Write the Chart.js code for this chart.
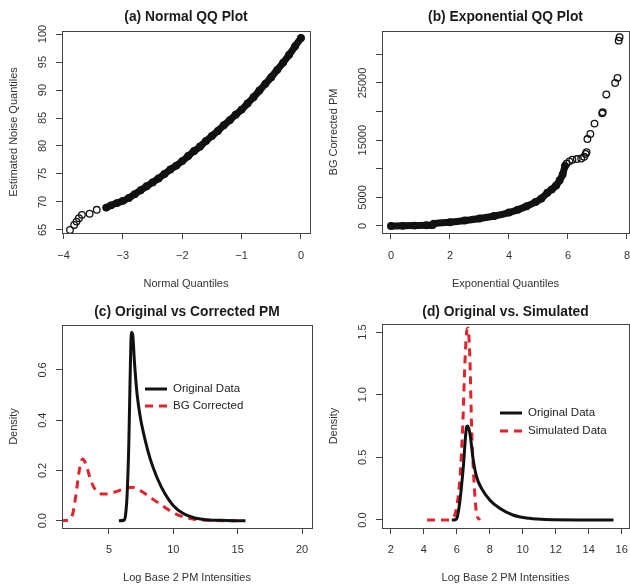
<!DOCTYPE html>
<html lang="en">
<head>
<meta charset="UTF-8">
<title>QQ plots and densities</title>
<script src="https://cdn.jsdelivr.net/npm/chart.js"></script>
<style>
  body { margin: 0; background: #fff; }
  canvas { position: absolute; }
</style>
</head>
<body>
<canvas id="qqNormal" width="315" height="294" style="left:0;top:0"></canvas>
<canvas id="qqExp" width="315" height="294" style="left:315px;top:0"></canvas>
<canvas id="densCorr" width="315" height="294" style="left:0;top:294px"></canvas>
<canvas id="densSim" width="315" height="294" style="left:315px;top:294px"></canvas>
<script>
// (a) normal QQ plot: sparse tail + dense band
const normSparseX = [-3.89, -3.82, -3.78, -3.74, -3.69, -3.56, -3.44];
const normSparseY = [65.0, 65.9, 66.5, 67.1, 67.7, 67.9, 68.6];
const normDenseX = [-3.28, -3.2, -3.1, -3.0, -2.9, -2.8, -2.7, -2.6, -2.5, -2.4, -2.3, -2.2, -2.1, -2.0, -1.9, -1.8, -1.7, -1.6, -1.5, -1.4, -1.3, -1.2, -1.1, -1.0, -0.9, -0.8, -0.7, -0.6, -0.5, -0.4, -0.3, -0.2, -0.1, 0.0];
const normDenseY = [69.0, 69.4, 69.8, 70.2, 70.7, 71.4, 72.1, 72.8, 73.5, 74.2, 75.0, 75.8, 76.5, 77.3, 78.2, 79.1, 79.9, 80.9, 81.8, 82.7, 83.7, 84.6, 85.6, 86.5, 87.6, 88.7, 89.9, 91.1, 92.3, 93.6, 94.9, 96.3, 97.8, 99.3];

// (b) exponential QQ plot
const expDenseX = [0, 0.4, 0.8, 1.2, 1.4, 1.45, 2.0, 2.5, 3.0, 3.5, 4.0, 4.3, 4.6, 4.9, 5.1, 5.3, 5.45, 5.6, 5.72, 5.82, 5.9];
const expDenseY = [0, 30, 70, 120, 150, 380, 650, 950, 1300, 1750, 2350, 2850, 3450, 4200, 4800, 5800, 6400, 7100, 8000, 9000, 10500];
const expSparseX = [5.95, 6.05, 6.15, 6.3, 6.45, 6.55, 6.6, 6.63, 6.66, 6.76, 6.9, 7.16, 7.18, 7.3, 7.6, 7.68, 7.72, 7.75];
const expSparseY = [10900, 11300, 11600, 11700, 11800, 12100, 12600, 12900, 15200, 16100, 17900, 19700, 19900, 23000, 25000, 25900, 32400, 33000];

// (c) original vs corrected densities
const origX = [5.77, 6.15, 6.28, 6.41, 6.54, 6.67, 6.74, 6.85, 6.97, 7.18, 7.44, 7.82, 8.2, 8.72, 9.36, 10, 10.77, 11.54, 12.56, 14.1, 15.6];
const origY = [0, 0.002, 0.02, 0.106, 0.305, 0.64, 0.75, 0.737, 0.637, 0.505, 0.41, 0.319, 0.246, 0.173, 0.106, 0.06, 0.029, 0.013, 0.004, 0.001, 0];
const bgX = [1.2, 1.8, 2.18, 2.44, 2.69, 2.95, 3.2, 3.59, 4.1, 4.62, 5.38, 6.15, 6.8, 7.44, 8.2, 8.97, 9.74, 10.5, 11.5, 13.1, 14.9];
const bgY = [0, 0.002, 0.027, 0.106, 0.2, 0.246, 0.226, 0.16, 0.113, 0.106, 0.113, 0.126, 0.133, 0.12, 0.093, 0.066, 0.04, 0.02, 0.007, 0.001, 0];

// (d) original vs simulated densities
const orig2X = [5.7, 5.9, 6.04, 6.2, 6.4, 6.6, 6.66, 6.8, 7.0, 7.2, 7.5, 8.0, 8.6, 9.4, 10.4, 11.4, 13.4, 15.5];
const orig2Y = [0, 0.002, 0.027, 0.16, 0.425, 0.743, 0.75, 0.69, 0.478, 0.345, 0.252, 0.16, 0.093, 0.04, 0.013, 0.003, 0, 0];
const simX = [4.2, 5.4, 5.8, 6.0, 6.2, 6.36, 6.5, 6.6, 6.68, 6.8, 6.9, 7.04, 7.2, 7.4];
const simY = [0, 0, 0.02, 0.106, 0.345, 0.743, 1.27, 1.5, 1.53, 1.27, 0.743, 0.32, 0.053, 0];

const FONT = '"Liberation Sans", Arial, sans-serif';
const RED = '#e3232c';

function pts(xs, ys) { return xs.map((x, i) => ({ x: x, y: ys[i] })); }

// box, titles, tick labels and legend drawn the way R does it
const rDeco = {
  id: 'rdeco',
  afterDraw(chart, args, o) {
    const ctx = chart.ctx, a = chart.chartArea;
    const xs = chart.scales.x, ys = chart.scales.y;
    ctx.save();
    ctx.strokeStyle = '#444';
    ctx.lineWidth = 1;
    ctx.strokeRect(Math.round(a.left) + 0.5, Math.round(a.top) + 0.5, Math.round(a.right - a.left), Math.round(a.bottom - a.top));

    ctx.textAlign = 'center';
    ctx.textBaseline = 'middle';
    ctx.fillStyle = '#1a1a1a';
    ctx.font = 'bold 13.8px ' + FONT;
    ctx.fillText(o.title, (a.left + a.right) / 2, o.titleY);

    ctx.fillStyle = '#333';
    ctx.font = '11px ' + FONT;
    o.xLabels.forEach((t, i) => ctx.fillText(t, xs.getPixelForValue(o.xLabelVals[i]), 256));
    ctx.fillText(o.xTitle, (a.left + a.right) / 2, 284);

    o.yLabels.forEach((t, i) => {
      ctx.save();
      ctx.translate(a.left - 19, ys.getPixelForValue(o.yLabelVals[i]));
      ctx.rotate(-Math.PI / 2);
      ctx.fillText(t, 0, 0);
      ctx.restore();
    });
    ctx.save();
    ctx.translate(a.left - 48, (a.top + a.bottom) / 2);
    ctx.rotate(-Math.PI / 2);
    ctx.fillText(o.yTitle, 0, 0);
    ctx.restore();

    if (o.legend) {
      const lg = o.legend;
      lg.items.forEach(it => {
        ctx.strokeStyle = it.color;
        ctx.lineWidth = 3;
        ctx.setLineDash(it.dash || []);
        ctx.beginPath();
        ctx.moveTo(lg.x1, it.y);
        ctx.lineTo(lg.x2, it.y);
        ctx.stroke();
        ctx.setLineDash([]);
        ctx.textAlign = 'left';
        ctx.fillStyle = '#222';
        ctx.font = '11.5px ' + FONT;
        ctx.fillText(it.text, lg.tx, it.y);
      });
    }
    ctx.restore();
  }
};

function axis(min, max, ticks, isY) {
  return {
    type: 'linear', min: min, max: max,
    afterBuildTicks: s => { s.ticks = ticks.map(v => ({ value: v })); },
    afterFit: s => { if (isY) s.width = 6; else s.height = 6; },
    ticks: { display: false },
    grid: { drawOnChartArea: false, drawTicks: true, tickLength: 6, tickColor: '#444', lineWidth: 1 },
    border: { display: false }
  };
}

function makeChart(id, datasets, xa, ya, pad, deco) {
  new Chart(document.getElementById(id), {
    type: 'scatter',
    data: { datasets: datasets },
    options: {
      responsive: false,
      animation: false,
      devicePixelRatio: 1,
      events: [],
      layout: { padding: pad, autoPadding: false },
      scales: { x: xa, y: ya },
      plugins: { legend: { display: false }, tooltip: { enabled: false }, rdeco: deco }
    },
    plugins: [rDeco]
  });
}

const ring = { pointRadius: 3.3, pointBorderWidth: 1.3, pointBorderColor: '#111', pointBackgroundColor: 'rgba(0,0,0,0)' };

makeChart('qqNormal', [
  Object.assign({ data: pts(normDenseX, normDenseY), showLine: true, borderColor: '#111', borderWidth: 7,
    borderCapStyle: 'round', borderJoinStyle: 'round', cubicInterpolationMode: 'monotone' }, ring),
  Object.assign({ data: pts(normSparseX, normSparseY) }, ring)
], axis(-4.025, 0.152, [-4, -3, -2, -1, 0]), axis(64.46, 100.54, [65, 70, 75, 80, 85, 90, 95, 100], true),
{ left: 56, top: 31, right: 5, bottom: 55 },
{ title: '(a) Normal QQ Plot', titleY: 17, xTitle: 'Normal Quantiles', yTitle: 'Estimated Noise Quantiles',
  xLabelVals: [-4, -3, -2, -1, 0], xLabels: ['\u22124', '\u22123', '\u22122', '\u22121', '0'],
  yLabelVals: [65, 70, 75, 80, 85, 90, 95, 100], yLabels: ['65', '70', '75', '80', '85', '90', '95', '100'] });

makeChart('qqExp', [
  Object.assign({ data: pts(expDenseX, expDenseY), showLine: true, borderColor: '#111', borderWidth: 7,
    borderCapStyle: 'round', borderJoinStyle: 'round', cubicInterpolationMode: 'monotone' }, ring),
  Object.assign({ data: pts(expSparseX, expSparseY) }, ring)
], axis(-0.305, 8.07, [0, 2, 4, 6, 8]), axis(-1224, 34090, [0, 5000, 10000, 15000, 20000, 25000, 30000], true),
{ left: 61, top: 31, right: 1, bottom: 55 },
{ title: '(b) Exponential QQ Plot', titleY: 17, xTitle: 'Exponential Quantiles', yTitle: 'BG Corrected PM',
  xLabelVals: [0, 2, 4, 6, 8], xLabels: ['0', '2', '4', '6', '8'],
  yLabelVals: [0, 5000, 15000, 25000], yLabels: ['0', '5000', '15000', '25000'] });

makeChart('densCorr', [
  { data: pts(origX, origY), showLine: true, borderColor: '#111', borderWidth: 3, pointRadius: 0, cubicInterpolationMode: 'monotone' },
  { data: pts(bgX, bgY), showLine: true, borderColor: RED, borderWidth: 3, borderDash: [8, 6], pointRadius: 0, cubicInterpolationMode: 'monotone' }
], axis(1.35, 20.77, [5, 10, 15, 20]), axis(-0.029, 0.779, [0, 0.2, 0.4, 0.6], true),
{ left: 56, top: 31, right: 3, bottom: 54 },
{ title: '(c) Original vs Corrected PM', titleY: 18, xTitle: 'Log Base 2 PM Intensities', yTitle: 'Density',
  xLabelVals: [5, 10, 15, 20], xLabels: ['5', '10', '15', '20'],
  yLabelVals: [0, 0.2, 0.4, 0.6], yLabels: ['0.0', '0.2', '0.4', '0.6'],
  legend: { x1: 145, x2: 167, tx: 173, items: [
    { y: 95, text: 'Original Data', color: '#111' },
    { y: 112, text: 'BG Corrected', color: RED, dash: [8, 6] } ] } });

makeChart('densSim', [
  { data: pts(orig2X, orig2Y), showLine: true, borderColor: '#111', borderWidth: 3, pointRadius: 0, cubicInterpolationMode: 'monotone' },
  { data: pts(simX, simY), showLine: true, borderColor: RED, borderWidth: 3, borderDash: [8, 6], pointRadius: 0, cubicInterpolationMode: 'monotone' }
], axis(1.47, 16.44, [2, 4, 6, 8, 10, 12, 14, 16]), axis(-0.064, 1.564, [0, 0.5, 1, 1.5], true),
{ left: 61, top: 30, right: 1, bottom: 54 },
{ title: '(d) Original vs. Simulated', titleY: 18, xTitle: 'Log Base 2 PM Intensities', yTitle: 'Density',
  xLabelVals: [2, 4, 6, 8, 10, 12, 14, 16], xLabels: ['2', '4', '6', '8', '10', '12', '14', '16'],
  yLabelVals: [0, 0.5, 1, 1.5], yLabels: ['0.0', '0.5', '1.0', '1.5'],
  legend: { x1: 185, x2: 207, tx: 213, items: [
    { y: 119, text: 'Original Data', color: '#111' },
    { y: 137, text: 'Simulated Data', color: RED, dash: [8, 6] } ] } });
</script>
</body>
</html>
